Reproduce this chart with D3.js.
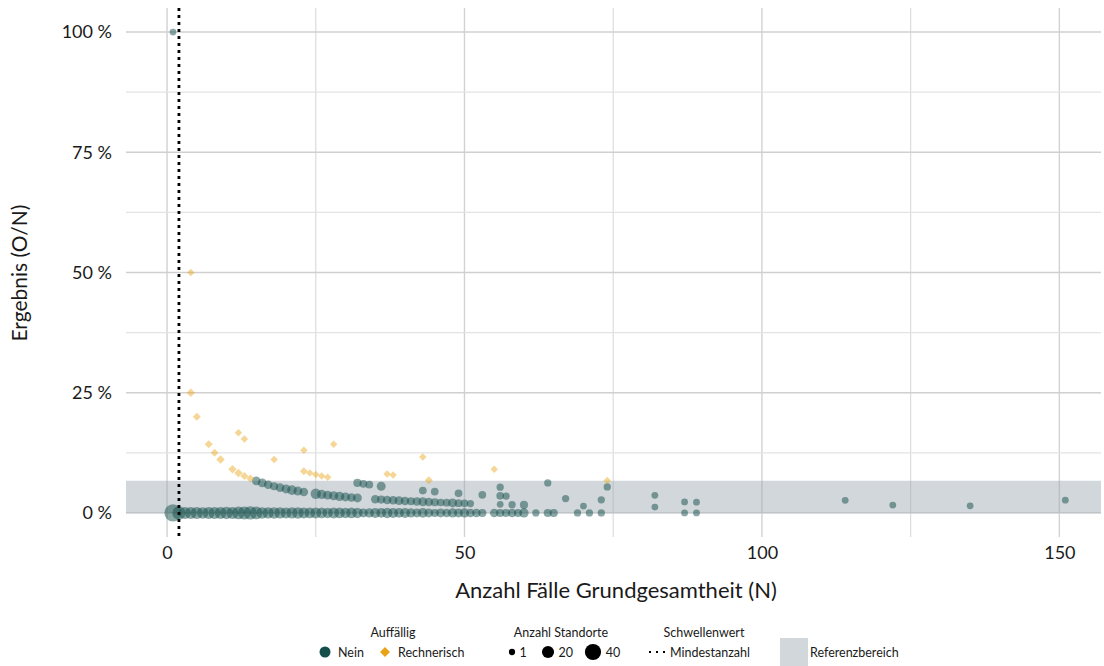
<!DOCTYPE html>
<html>
<head>
<meta charset="utf-8">
<script src="https://cdn.jsdelivr.net/npm/d3@7"></script>
<style>
body { margin: 0; background: #fff; }
text { font-family: Lato, "Open Sans", sans-serif; fill: #1a1a1a; }
</style>
</head>
<body>
<div id="chart"></div>
<script>
// Standorte "Nein" (nicht auffaellig): N, O, Anzahl Standorte
var neinN = [
  1,2,3,4,5,6,7,8,9,10,11,12,13,14,15,16,17,18,19,20,21,22,23,24,25,26,27,28,29,30,
  31,32,33,34,35,36,37,38,39,40,41,42,43,44,45,46,47,48,49,50,51,52,53,55,56,57,58,59,60,
  62,64,65,69,71,73,87,89,
  1,15,16,17,18,19,20,21,22,23,25,26,27,28,29,30,31,32,35,36,
  37,38,39,40,41,42,43,44,45,46,47,48,49,50,51,56,58,60,70,82,
  32,33,34,36,43,45,49,53,56,57,67,73,87,89,122,135,
  56,82,114,
  64,74,151
];
var neinO = [
  0,0,0,0,0,0,0,0,0,0,0,0,0,0,0,0,0,0,0,0,0,0,0,0,0,0,0,0,0,0,
  0,0,0,0,0,0,0,0,0,0,0,0,0,0,0,0,0,0,0,0,0,0,0,0,0,0,0,0,0,
  0,0,0,0,0,0,0,0,
  1,1,1,1,1,1,1,1,1,1,1,1,1,1,1,1,1,1,1,1,
  1,1,1,1,1,1,1,1,1,1,1,1,1,1,1,1,1,1,1,1,
  2,2,2,2,2,2,2,2,2,2,2,2,2,2,2,2,
  3,3,3,
  4,4,4
];
var neinAnzahl = [
  38,20,16,15,16,14,15,16,15,17,16,18,19,20,18,14,13,14,13,12,13,14,12,11,12,11,10,12,11,10,
  11,10,6,7,9,8,10,9,8,9,7,6,8,6,4,6,5,7,6,7,5,5,4,5,4,4,5,4,7,
  2,4,4,2,2,2,1,1,
  1,5,6,5,4,5,6,8,6,5,10,7,6,6,7,6,5,6,5,4,
  5,5,6,5,4,5,6,5,4,3,3,6,3,3,2,1,2,4,1,1,
  4,3,3,6,3,3,3,3,3,2,2,2,1,1,1,1,
  2,1,1,
  2,2,1
];

// Standorte "Rechnerisch" auffaellig
var rechN = [4,4,5,7,8,9,11,12,13,14,12,13,18,23,23,24,25,26,27,28,37,38,43,44,55,74];
var rechO = [2,1,1,1,1,1,1,1,1,1,2,2,2,3,2,2,2,2,2,4,3,3,5,3,5,5];
var rechAnzahl = [1,3,2,2,2,3,3,3,2,2,1,1,1,1,2,1,1,1,1,1,1,1,1,2,1,1];

var xTicks = [0, 50, 100, 150];
var yTicks = [0, 0.25, 0.5, 0.75, 1];
var referenzOben = 0.067;
var mindestanzahl = 2;
var sizeLegend = [1, 20, 40];

var width = 1104,
    height = 666;
var farbeNein = "#144f4b",
    farbeRech = "#e8a317";

var svg = d3.select("#chart")
    .append("svg")
    .attr("width", width)
    .attr("height", height);

var x = d3.scaleLinear().domain([-6.9, 157]).range([126, 1101]);
var y = d3.scaleLinear().domain([-0.05, 1.05]).range([537, 8]);
var r = d3.scaleRadial().domain([1, 40]).range([3.4, 8.8]);

function diamond(h) {
  return "M0," + (-h) + "L" + h + ",0L0," + h + "L" + (-h) + ",0Z";
}

// minor grid between the ticks
var xMinor = d3.range(xTicks.length - 1).map(function(i) { return (xTicks[i] + xTicks[i + 1]) / 2; });
var yMinor = d3.range(yTicks.length - 1).map(function(i) { return (yTicks[i] + yTicks[i + 1]) / 2; });

var grid = svg.append("g").attr("class", "grid");
grid.selectAll(".vminor").data(xMinor).enter().append("line")
    .attr("x1", function(d) { return x(d); }).attr("x2", function(d) { return x(d); })
    .attr("y1", y.range()[1]).attr("y2", y.range()[0])
    .attr("stroke", "#dcdcdc").attr("stroke-width", 1.2);
grid.selectAll(".vmajor").data(xTicks).enter().append("line")
    .attr("x1", function(d) { return x(d); }).attr("x2", function(d) { return x(d); })
    .attr("y1", y.range()[1]).attr("y2", y.range()[0])
    .attr("stroke", "#d2d2d2").attr("stroke-width", 1.4);
grid.selectAll(".hminor").data(yMinor).enter().append("line")
    .attr("y1", function(d) { return y(d); }).attr("y2", function(d) { return y(d); })
    .attr("x1", x.range()[0]).attr("x2", x.range()[1])
    .attr("stroke", "#e3e3e3").attr("stroke-width", 1.2);
grid.selectAll(".hmajor").data(yTicks).enter().append("line")
    .attr("y1", function(d) { return y(d); }).attr("y2", function(d) { return y(d); })
    .attr("x1", x.range()[0]).attr("x2", x.range()[1])
    .attr("stroke", "#d0d0d0").attr("stroke-width", 1.4);

// Referenzbereich
svg.append("rect")
    .attr("x", x.range()[0])
    .attr("width", x.range()[1] - x.range()[0])
    .attr("y", y(referenzOben))
    .attr("height", y(0) - y(referenzOben))
    .attr("fill", "#9ba6af")
    .attr("fill-opacity", 0.45);

var nein = neinN.map(function(n, i) { return {n: n, o: neinO[i], anzahl: neinAnzahl[i]}; });
var rech = rechN.map(function(n, i) { return {n: n, o: rechO[i], anzahl: rechAnzahl[i]}; });

svg.append("g")
    .selectAll("circle")
    .data(nein)
    .enter().append("circle")
    .attr("cx", function(d) { return x(d.n); })
    .attr("cy", function(d) { return y(d.o / d.n); })
    .attr("r", function(d) { return r(d.anzahl); })
    .attr("fill", farbeNein)
    .attr("fill-opacity", 0.5);

svg.append("g")
    .selectAll("path")
    .data(rech)
    .enter().append("path")
    .attr("transform", function(d) { return "translate(" + x(d.n) + "," + y(d.o / d.n) + ")"; })
    .attr("d", function(d) { return diamond(r(d.anzahl) * 1.1); })
    .attr("fill", farbeRech)
    .attr("fill-opacity", 0.45);

// Mindestanzahl
svg.append("line")
    .attr("x1", x(mindestanzahl)).attr("x2", x(mindestanzahl))
    .attr("y1", y.range()[1]).attr("y2", y.range()[0])
    .attr("stroke", "#000")
    .attr("stroke-width", 2.8)
    .attr("stroke-dasharray", "3,4");

// axes
var yAxis = svg.append("g")
    .attr("transform", "translate(" + x.range()[0] + ",0)")
    .call(d3.axisLeft(y).tickValues(yTicks).tickSize(0).tickPadding(14)
      .tickFormat(function(d) { return Math.round(d * 100) + " %"; }));
var xAxis = svg.append("g")
    .attr("transform", "translate(0," + y.range()[0] + ")")
    .call(d3.axisBottom(x).tickValues(xTicks).tickSize(0).tickPadding(9));
[xAxis, yAxis].forEach(function(a) {
  a.select(".domain").remove();
  a.selectAll("text").style("font-size", "18px").attr("fill", "#1a1a1a")
    .style("font-family", "Lato, 'Open Sans', sans-serif");
});

svg.append("text")
    .attr("transform", "translate(27,273) rotate(-90)")
    .attr("text-anchor", "middle")
    .style("font-size", "21px")
    .text("Ergebnis (O/N)");
svg.append("text")
    .attr("x", 616).attr("y", 598)
    .attr("text-anchor", "middle")
    .style("font-size", "22px")
    .text("Anzahl Fälle Grundgesamtheit (N)");

// legend
var leg = svg.append("g").style("font-size", "12.5px");
var titleY = 637, itemY = 652;
leg.append("text").attr("x", 393).attr("y", titleY).attr("text-anchor", "middle").text("Auffällig");
leg.append("circle").attr("cx", 325).attr("cy", itemY).attr("r", 5.5).attr("fill", farbeNein);
leg.append("text").attr("x", 338).attr("y", itemY + 4.5).text("Nein");
leg.append("path").attr("transform", "translate(385," + itemY + ")").attr("d", diamond(5)).attr("fill", farbeRech);
leg.append("text").attr("x", 398).attr("y", itemY + 4.5).text("Rechnerisch");

leg.append("text").attr("x", 561).attr("y", titleY).attr("text-anchor", "middle").text("Anzahl Standorte");
var sizeX = [512, 548, 593];
sizeLegend.forEach(function(s, i) {
  leg.append("circle").attr("cx", sizeX[i]).attr("cy", itemY).attr("r", r(s) * 0.92).attr("fill", "#000");
  leg.append("text").attr("x", sizeX[i] + r(s) + 4).attr("y", itemY + 4.5).text(s);
});

leg.append("text").attr("x", 704).attr("y", titleY).attr("text-anchor", "middle").text("Schwellenwert");
leg.append("line").attr("x1", 649).attr("x2", 667).attr("y1", itemY).attr("y2", itemY)
    .attr("stroke", "#000").attr("stroke-width", 2).attr("stroke-dasharray", "2,5");
leg.append("text").attr("x", 670).attr("y", itemY + 4.5).text("Mindestanzahl");

leg.append("rect").attr("x", 780).attr("y", 638).attr("width", 28).attr("height", 28)
    .attr("fill", "#9ba6af").attr("fill-opacity", 0.45);
leg.append("text").attr("x", 810).attr("y", itemY + 4.5).text("Referenzbereich");
</script>
</body>
</html>
